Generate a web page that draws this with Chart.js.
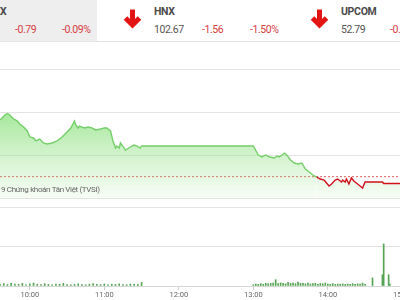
<!DOCTYPE html>
<html>
<head>
<meta charset="utf-8">
<script src="https://cdn.jsdelivr.net/npm/chart.js@4"></script>
<style>
	html, body { margin:0; padding:0; width:400px; height:300px; overflow:hidden; background:#fff; font-family:Roboto, sans-serif; }
	.abs { position:absolute; white-space:nowrap; }
	#head { position:absolute; left:0; top:0; width:400px; height:41px; border-bottom:1px solid #e4e4e4; }
	#greyBox { position:absolute; left:0; top:0; width:97px; height:41px; background:#eeeeee; }
	.name { font-size:10.5px; font-weight:bold; color:#4a4a4a; top:5px; letter-spacing:-0.3px; }
	.val { font-size:10.5px; color:#555; top:23px; letter-spacing:-0.4px; }
	.down { font-size:10.5px; color:#d6403f; top:23px; letter-spacing:-0.4px; }
	.arrow { position:absolute; top:8px; }
	#priceChart { position:absolute; left:0; top:69px; }
	#volChart { position:absolute; left:0; top:207px; }
	#copy { font-size:8px; color:#666; left:1px; top:185px; letter-spacing:-0.35px; }
</style>
</head>
<body>
<div id="head">
	<div id="greyBox"></div>
	<div class="abs name" style="left:0px"><span class="abs" style="right:100%">VN-INDE</span>X</div>
	<div class="abs down" style="left:15px">-0.79</div>
	<div class="abs down" style="left:62px">-0.09%</div>
	<svg class="arrow" style="left:122px" width="21" height="21" viewBox="0 0 21 21"><path d="M10.5 1.5 V16 M3.5 10 L10.5 17 L17.5 10" stroke="#e31414" stroke-width="5" fill="none"/></svg>
	<div class="abs name" style="left:154px">HNX</div>
	<div class="abs val" style="left:154px">102.67</div>
	<div class="abs down" style="left:202px">-1.56</div>
	<div class="abs down" style="left:250px">-1.50%</div>
	<svg class="arrow" style="left:309px" width="21" height="21" viewBox="0 0 21 21"><path d="M10.5 1.5 V16 M3.5 10 L10.5 17 L17.5 10" stroke="#e31414" stroke-width="5" fill="none"/></svg>
	<div class="abs name" style="left:341px">UPCOM</div>
	<div class="abs val" style="left:341px">52.79</div>
	<div class="abs down" style="left:390px">-0.06</div>
</div>
<canvas id="priceChart" width="440" height="130"></canvas>
<div id="copy" class="abs"><span class="abs" style="right:100%">© 201</span>9 Chứng khoán Tân Việt (TVSI)</div>
<canvas id="volChart" width="440" height="94"></canvas>
<script>
/* Index values over the day (times as H:MM) */
const priceTimes = ['9:36','9:40','9:42','9:44','9:46','9:50','9:52','9:55','9:58','10:00',
	'10:03','10:05','10:08','10:11','10:14','10:18','10:22','10:26','10:30','10:33',
	'10:36','10:37','10:39','10:40','10:44','10:47','10:50','10:53','10:57','11:00',
	'11:02','11:05','11:07','11:09','11:10','11:12','11:13','11:16','11:17','11:21',
	'11:24','11:26','11:29','11:30',
	'13:00','13:04','13:07','13:10','13:13','13:17','13:19','13:21','13:25','13:27',
	'13:30','13:33','13:36','13:39','13:42','13:46','13:49','13:51','13:54','13:57',
	'13:59','14:01','14:03','14:06','14:08','14:11','14:12','14:14','14:15','14:17',
	'14:19','14:21','14:24','14:27','14:28','14:30','14:44','14:45','15:00'];
const priceValues = [969.07,969.65,969.83,969.65,969.30,968.95,968.60,968.26,967.79,967.09,
	966.98,966.63,966.86,966.40,966.28,966.40,966.63,967.09,967.67,968.14,
	968.95,968.49,968.14,968.37,968.14,968.26,968.14,967.91,968.02,968.14,
	968.14,967.79,966.63,965.81,966.05,965.81,966.40,965.81,965.58,965.93,
	966.16,966.05,965.81,966.05,
	966.05,965.00,964.77,965.00,964.77,964.65,964.88,964.77,965.23,965.00,
	964.42,964.07,963.95,964.07,963.37,962.91,962.56,962.44,962.21,962.09,
	961.74,961.40,961.63,962.09,962.21,961.86,962.09,961.86,962.21,961.63,
	962.33,961.98,961.63,961.28,961.16,961.86,961.86,961.69,961.69];
const refValue = 962.48;
const priceTicks = [960, 965, 970, 975];

/* Matched volume (thousand shares) */
const volTimes = ['9:36','9:39','9:42','9:45','9:48','9:51','9:54','9:57','10:00','10:03',
	'10:06','10:09','10:12','10:15','10:18','10:21','10:24','10:27','10:30','10:33',
	'10:36','10:39','10:42','10:45','10:48','10:51','10:54','10:57','11:00','11:03',
	'11:06','11:09','11:12','11:15','11:18','11:21','11:24','11:27','11:30',
	'13:00','13:02','13:04','13:06','13:08','13:10','13:12','13:14','13:16','13:18',
	'13:20','13:22','13:24','13:26','13:28','13:30','13:32','13:34','13:36','13:38',
	'13:40','13:42','13:44','13:46','13:48','13:50','13:52','13:54','13:56','13:58',
	'14:00','14:02','14:04','14:06','14:08','14:10','14:12','14:14','14:16','14:18',
	'14:20','14:22','14:24','14:26','14:28','14:30','14:36','14:44','14:45','14:49','14:50'];
const volValues = [90,120,70,140,100,80,130,60,110,150,
	90,70,120,80,60,100,90,130,70,60,
	80,110,70,60,90,120,80,70,100,60,
	90,80,110,70,60,100,90,80,180,
	60,100,80,120,90,140,110,130,150,320,
	120,160,140,110,180,130,150,120,200,140,
	130,110,150,100,120,140,90,130,110,150,
	100,90,120,80,100,90,110,80,100,90,
	120,80,110,100,150,90,410,570,2130,570,100];
const volTicks = [0, 2000, 4000];

const tickLabels = ['10:00','11:00','12:00','13:00','14:00','15:00'];

/* x scale: minutes since midnight, 74.5 px per hour on a 440 px canvas */
const xMin = 576;
const xMax = 576 + 440 * 60 / 74.5;

/**
 * Converts an H:MM string into minutes since midnight.
 *
 * @param s Time string.
 * @returns Minutes.
 */
function toMinutes(s) {
	var parts = s.split(':');
	return parseInt(parts[0]) * 60 + parseInt(parts[1]);
}

/**
 * Pairs time strings with values into {x, y} points.
 */
function makePoints(times, values) {
	var pts = [];
	for (var i = 0; i < times.length; i++) {
		pts.push({x: toMinutes(times[i]), y: values[i]});
	}
	return pts;
}

/**
 * Builds the gradient used under the index line.
 */
function greenFill(context) {
	const area = context.chart.chartArea;
	if (!area) return 'rgba(120,220,110,0.4)';
	const g = context.chart.ctx.createLinearGradient(0, area.top, 0, area.bottom);
	g.addColorStop(0, 'rgba(105,215,90,0.9)');
	g.addColorStop(0.35, 'rgba(120,220,105,0.65)');
	g.addColorStop(1, 'rgba(150,225,135,0.08)');
	return g;
}

function drawPriceChart(chartID) {
	const ctx = document.getElementById(chartID).getContext('2d');
	new Chart(ctx, {
		type:'line',
		data:{
			datasets:[
				{
				data: makePoints(priceTimes, priceValues),
				borderWidth:1.4,
				borderColor:'#74cf68',
				backgroundColor: greenFill,
				fill:'start',
				pointRadius:0,
				tension:0,
				segment:{
					borderColor: c => (c.p1.parsed.y < refValue && c.p0.parsed.y <= refValue + 0.05) ? '#d0101a' : '#74cf68'
				}},
				{
				data:[{x:xMin, y:refValue}, {x:xMax, y:refValue}],
				borderColor:'#e0605a',
				borderWidth:1,
				borderDash:[2,2],
				pointRadius:0,
				fill:false}
			]
		},
		options:{
			responsive:false,
			animation:false,
			events:[],
			layout:{ padding:{ left:0, right:0, top:0, bottom:1 } },
			plugins:{ legend:{ display:false }, tooltip:{ enabled:false } },
			scales:{
				x:{ type:'linear', display:false, min:xMin, max:xMax },
				y:{
					min:priceTicks[0],
					max:priceTicks[priceTicks.length - 1],
					afterBuildTicks: s => { s.ticks = priceTicks.map(v => ({value:v})); },
					ticks:{ display:false },
					border:{ display:false },
					grid:{ color:'#e4e4e4', drawTicks:false }
				}
			}
		}
	});
}

function drawVolChart(chartID) {
	const ctx = document.getElementById(chartID).getContext('2d');
	new Chart(ctx, {
		type:'bar',
		data:{
			datasets:[
				{
				data: makePoints(volTimes, volValues),
				backgroundColor:'#55a453',
				barThickness:1}
			]
		},
		options:{
			responsive:false,
			animation:false,
			events:[],
			layout:{ padding:0 },
			plugins:{ legend:{ display:false }, tooltip:{ enabled:false } },
			scales:{
				x:{
					type:'linear',
					min:xMin,
					max:xMax,
					offset:false,
					afterBuildTicks: s => { s.ticks = tickLabels.map(t => ({value:toMinutes(t)})); },
					ticks:{
						autoSkip:false,
						maxRotation:0,
						padding:1,
						color:'#666',
						font:{ family:'Roboto', size:7.5 },
						callback: v => tickLabels[tickLabels.map(toMinutes).indexOf(v)]
					},
					border:{ display:true, color:'#d6d6d6' },
					grid:{ offset:false, drawOnChartArea:false, drawTicks:true, tickLength:4, color:'#cfcfcf' }
				},
				y:{
					min:volTicks[0],
					max:volTicks[volTicks.length - 1],
					afterBuildTicks: s => { s.ticks = volTicks.map(v => ({value:v})); },
					ticks:{ display:false },
					border:{ display:false },
					grid:{ color:'#e4e4e4', drawTicks:false }
				}
			}
		}
	});
}

drawPriceChart('priceChart');
drawVolChart('volChart');
</script>
</body>
</html>
